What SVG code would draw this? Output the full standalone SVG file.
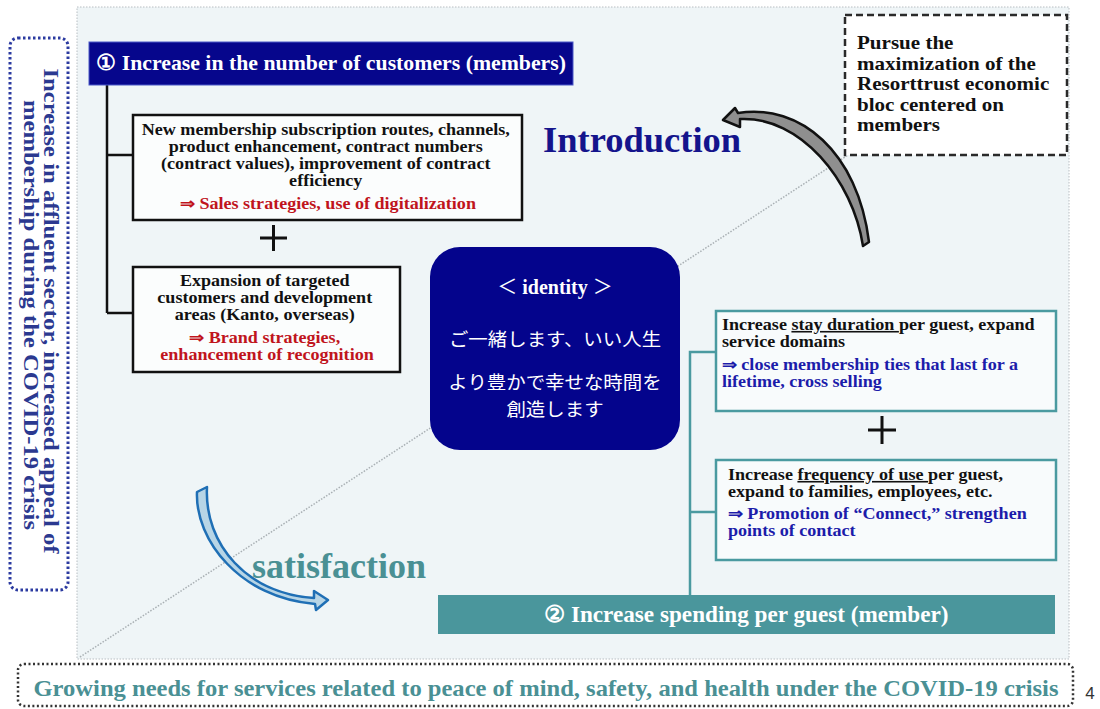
<svg xmlns="http://www.w3.org/2000/svg" width="1100" height="709" viewBox="0 0 1100 709">
<style>
.s{font-family:"Liberation Serif","Times New Roman",serif;font-weight:bold}
.j{font-family:"Noto Sans CJK JP",sans-serif}
.bk{fill:#111}
.rd{fill:#c0141c}
.bl{fill:#1c1caa}
.box{fill:#fbfdfd;stroke:#111;stroke-width:2.5}
.tbox{fill:#f8fbfc;stroke:#4a9aa0;stroke-width:2.5}
.plus{stroke:#111;stroke-width:3}
</style>
<rect width="1100" height="709" fill="#ffffff"/>
<!-- main panel -->
<rect x="77" y="7" width="992" height="652" fill="#eff5f7" stroke="#b8bec2" stroke-width="1" stroke-dasharray="1.5 1.5"/>
<line x1="80" y1="657" x2="848" y2="155" stroke="#a9b0b4" stroke-width="1.5" stroke-dasharray="1.5 1.5"/>

<!-- left vertical -->
<g id="left-note">
<rect x="10" y="38" width="58" height="552" rx="8" fill="#ffffff" stroke="#2b3aa0" stroke-width="3" stroke-dasharray="2.5 2.5"/>
<text class="s" font-size="21" fill="#2b3990" text-anchor="middle" textLength="485" lengthAdjust="spacingAndGlyphs" transform="translate(44,311) rotate(90)">Increase in affluent sector, increased appeal of</text>
<text class="s" font-size="21" fill="#2b3990" text-anchor="middle" textLength="430" lengthAdjust="spacingAndGlyphs" transform="translate(24,315) rotate(90)">membership during the COVID-19 crisis</text>
</g>

<!-- connectors -->
<g id="connectors" fill="none">
<path d="M107 85 V313 M107 155 H133 M107 313 H133" stroke="#111" stroke-width="2.5"/>
<path d="M690 597 V352 H716 M690 512 H716" stroke="#4a9aa0" stroke-width="2.5"/>
<path d="M723 120 L735 108 L738 113 C800 103 858 152 869 242 L863 246 C853 180 800 116 740 119 L740 127 Z" fill="#8f8f8f" stroke="#111" stroke-width="2.5" stroke-linejoin="round"/>
<path d="M197 492 C195 540 240 598 315 604 L316 610 L328 600 L314 591 L314 598 C248 594 204 545 207 487 Z" fill="#b7d5e6" stroke="#1f6fb5" stroke-width="2.5" stroke-linejoin="round"/>
</g>

<!-- header 1 -->
<g id="header1">
<rect x="89" y="42" width="484" height="43" fill="#06068c" stroke="#4a58c8" stroke-width="1"/>
<text class="s" x="331" y="70" font-size="21.5" fill="#fff" text-anchor="middle" textLength="470" lengthAdjust="spacingAndGlyphs">① Increase in the number of customers (members)</text>
</g>

<g id="box1">
<rect class="box" x="133" y="115" width="389" height="105"/>
<text class="s" font-size="16" text-anchor="middle" transform="translate(328,0) scale(1.13,1)">
<tspan class="bk" x="0" y="135">New membership subscription routes, channels,</tspan>
<tspan class="bk" x="0" y="152">product enhancement, contract numbers</tspan>
<tspan class="bk" x="0" y="169">(contract values), improvement of contract</tspan>
<tspan class="bk" x="0" y="186">efficiency</tspan>
<tspan class="rd" x="0" y="209">⇒ Sales strategies, use of digitalization</tspan>
</text>
</g>
<g id="plus1"><path class="plus" d="M260 238 H287 M273.5 225 V251"/></g>
<g id="box2">
<rect class="box" x="133" y="267" width="267" height="105"/>
<text class="s" font-size="16" text-anchor="middle" transform="translate(267,0) scale(1.13,1)">
<tspan class="bk" x="0" y="286">Expansion of targeted</tspan>
<tspan class="bk" x="0" y="303">customers and development</tspan>
<tspan class="bk" x="0" y="320">areas (Kanto, overseas)</tspan>
<tspan class="rd" x="0" y="343">⇒ Brand strategies,</tspan>
<tspan class="rd" x="0" y="360">enhancement of recognition</tspan>
</text>
</g>

<g id="introduction"><text class="s" x="543" y="152" font-size="36.5" fill="#14148c">Introduction</text></g>

<g id="goal">
<rect x="845" y="15" width="222" height="140" fill="#ffffff" stroke="#2a2a2a" stroke-width="2.5" stroke-dasharray="7 4"/>
<text class="s bk" font-size="18" transform="translate(857,0) scale(1.17,1)">
<tspan x="0" y="49">Pursue the</tspan>
<tspan x="0" y="70">maximization of the</tspan>
<tspan x="0" y="90">Resorttrust economic</tspan>
<tspan x="0" y="111">bloc centered on</tspan>
<tspan x="0" y="131">members</tspan>
</text>
</g>

<g id="identity">
<rect x="430" y="247" width="250" height="203" rx="30" fill="#04048c"/>
<text class="s" x="555" y="294" font-size="20" fill="#fff" text-anchor="middle"><tspan class="j" font-weight="normal">＜</tspan> identity <tspan class="j" font-weight="normal">＞</tspan></text>
<g transform="translate(555,0) scale(1.08,1)" fill="#fff">
<text class="j" x="0" y="346" font-size="18" text-anchor="middle">ご一緒します、いい人生</text>
<text class="j" x="0" y="389" font-size="18" text-anchor="middle">より豊かで幸せな時間を</text>
<text class="j" x="0" y="416" font-size="18" text-anchor="middle">創造します</text>
</g>
</g>

<g id="box3">
<rect class="tbox" x="716" y="311" width="340" height="100"/>
<text class="s" font-size="16" transform="translate(722,0) scale(1.13,1)">
<tspan class="bk" x="0" y="330">Increase <tspan text-decoration="underline">stay duration </tspan>per guest, expand</tspan>
<tspan class="bk" x="0" y="347">service domains</tspan>
<tspan class="bl" x="0" y="370">⇒ close membership ties that last for a</tspan>
<tspan class="bl" x="0" y="387">lifetime, cross selling</tspan>
</text>
</g>
<g id="plus2"><path class="plus" d="M868 430 H896 M882 416 V444"/></g>
<g id="box4">
<rect class="tbox" x="716" y="460" width="340" height="100"/>
<text class="s" font-size="16" transform="translate(728,0) scale(1.13,1)">
<tspan class="bk" x="0" y="480">Increase <tspan text-decoration="underline">frequency of use </tspan>per guest,</tspan>
<tspan class="bk" x="0" y="497">expand to families, employees, etc.</tspan>
<tspan class="bl" x="0" y="519">⇒ Promotion of “Connect,” strengthen</tspan>
<tspan class="bl" x="0" y="536">points of contact</tspan>
</text>
</g>

<g id="header2">
<rect x="438" y="595" width="617" height="39" fill="#4a969c"/>
<text class="s" x="746" y="622" font-size="22.5" fill="#fff" text-anchor="middle" textLength="405" lengthAdjust="spacingAndGlyphs">② Increase spending per guest (member)</text>
</g>

<g id="satisfaction"><text class="s" x="252" y="578" font-size="36" fill="#4a9094">satisfaction</text></g>

<g id="bottom-note">
<rect x="18" y="664" width="1055" height="42" rx="6" fill="#ffffff" stroke="#333" stroke-width="2.5" stroke-dasharray="2 2.5"/>
<text class="s" x="546" y="696" font-size="23" fill="#4a9094" text-anchor="middle" textLength="1025" lengthAdjust="spacingAndGlyphs">Growing needs for services related to peace of mind, safety, and health under the COVID-19 crisis</text>
</g>
<text x="1090" y="699" font-family="Liberation Sans, Arial, sans-serif" font-size="17" fill="#333" text-anchor="middle">4</text>
</svg>
